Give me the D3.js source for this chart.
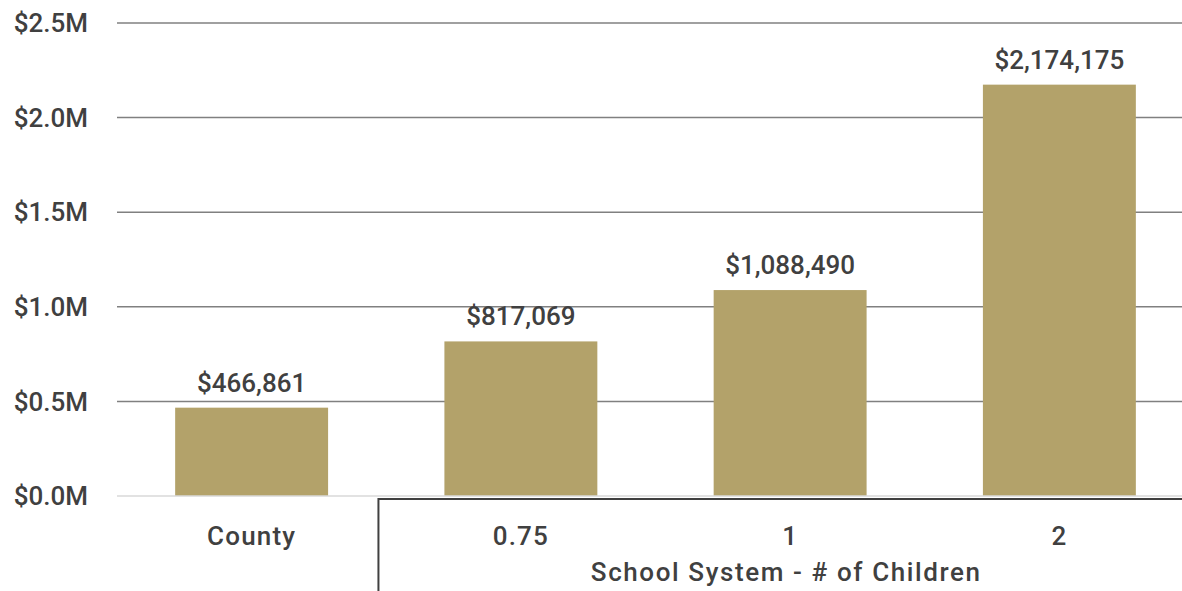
<!DOCTYPE html>
<html><head><meta charset="utf-8">
<script src="https://cdn.jsdelivr.net/npm/d3@7"></script>
<style>
body{margin:0;background:#fff;}
svg text{font-family:Roboto,"DejaVu Sans",sans-serif;fill:#404040;font-weight:500;}
</style></head>
<body>
<svg id="chart" width="1182" height="591"></svg>
<script>
const categories = ["County", "0.75", "1", "2"];
const values = [466861, 817069, 1088490, 2174175];
const yTicks = [0, 500000, 1000000, 1500000, 2000000, 2500000];
const groupLabel = "School System - # of Children";

const svg = d3.select("#chart");
const x = d3.scaleBand().domain(categories).range([117, 1194]).paddingInner(0.432).paddingOuter(0.216);
const y = d3.scaleLinear().domain([0, 2500000]).range([496, 23]);

// gridlines
svg.append("g").selectAll("line").data(yTicks.filter(d => d > 0)).join("line")
  .attr("x1", 117).attr("x2", 1182)
  .attr("y1", d => y(d)).attr("y2", d => y(d))
  .attr("stroke", "#808080").attr("stroke-width", 1.5);

// y labels
svg.append("g").selectAll("text").data(yTicks).join("text")
  .attr("x", 88).attr("y", d => y(d)).attr("dy", "0.35em")
  .attr("text-anchor", "end").attr("font-size", 26)
  .text(d => "$" + (d / 1e6).toFixed(1) + "M");

// bars
svg.append("g").selectAll("rect").data(values).join("rect")
  .attr("x", (d, i) => x(categories[i])).attr("width", x.bandwidth())
  .attr("y", d => y(d)).attr("height", d => y(0) - y(d))
  .attr("fill", "#b3a26a");

// baseline
svg.append("line").attr("x1", 117).attr("x2", 1182).attr("y1", y(0)).attr("y2", y(0))
  .attr("stroke", "#d9d9d9").attr("stroke-width", 1.5);

// value labels
svg.append("g").selectAll("text").data(values).join("text")
  .attr("x", (d, i) => x(categories[i]) + x.bandwidth() / 2)
  .attr("y", d => y(d) - 16)
  .attr("text-anchor", "middle").attr("font-size", 26)
  .text(d => "$" + d3.format(",")(d));

// category labels
svg.append("g").selectAll("text").data(categories).join("text")
  .attr("x", d => x(d) + x.bandwidth() / 2).attr("y", 536).attr("dy", "0.35em")
  .attr("text-anchor", "middle").attr("font-size", 26).attr("letter-spacing", 1.2)
  .text(d => d);

// group bracket
const gx = x(categories[1]) - x.step() * 0.245;
svg.append("path")
  .attr("d", `M${gx},591 V${y(0) + 3} H1182`)
  .attr("fill", "none").attr("stroke", "#404040").attr("stroke-width", 2);
svg.append("text").attr("x", (gx + 1194) / 2).attr("y", 572).attr("dy", "0.35em")
  .attr("text-anchor", "middle").attr("font-size", 26).attr("letter-spacing", 1.6).text(groupLabel);
</script>
</body></html>
